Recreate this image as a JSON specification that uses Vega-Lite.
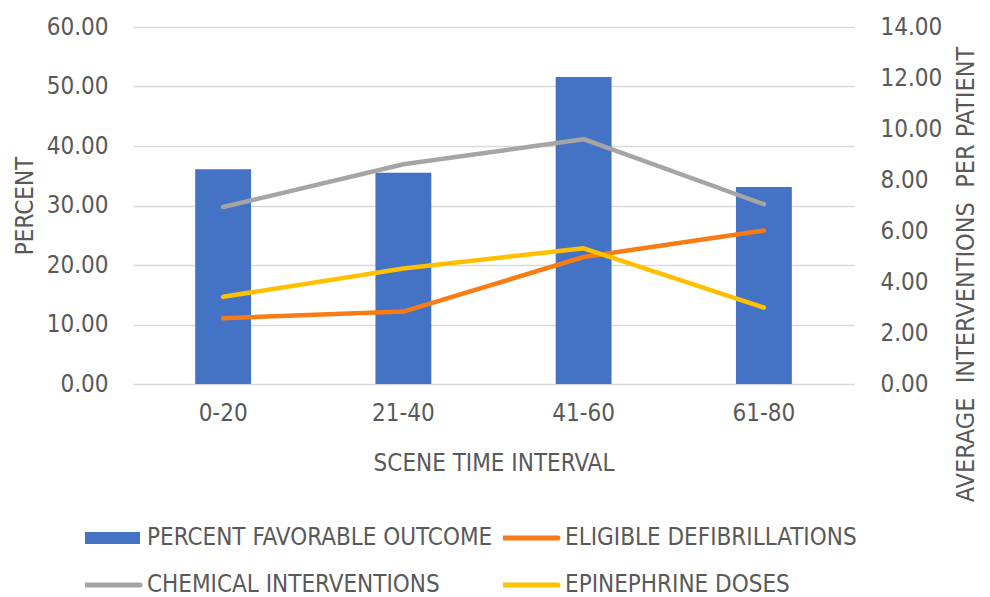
{
  "$schema": "https://vega.github.io/schema/vega-lite/v6.json",
  "width": 721,
  "height": 357,
  "autosize": {"type": "none"},
  "padding": {"left": 133, "top": 27, "right": 136, "bottom": 213},
  "background": "white",
  "config": {
    "font": "Liberation Sans Narrow, DejaVu Sans Condensed, sans-serif",
    "view": {"stroke": null},
    "axis": {
      "labelColor": "#595959",
      "titleColor": "#595959",
      "labelFontSize": 24,
      "titleFontSize": 24,
      "titleFontWeight": "normal",
      "domain": false,
      "ticks": false,
      "gridColor": "#D9D9D9",
      "gridWidth": 1.5
    },
    "legend": {
      "labelColor": "#595959",
      "labelFontSize": 24
    }
  },
  "data": {
    "values": [
      {"interval": "0-20", "series": "PERCENT FAVORABLE OUTCOME", "value": 36.1},
      {"interval": "21-40", "series": "PERCENT FAVORABLE OUTCOME", "value": 35.5},
      {"interval": "41-60", "series": "PERCENT FAVORABLE OUTCOME", "value": 51.6},
      {"interval": "61-80", "series": "PERCENT FAVORABLE OUTCOME", "value": 33.1},
      {"interval": "0-20", "series": "ELIGIBLE DEFIBRILLATIONS", "value": 2.58},
      {"interval": "21-40", "series": "ELIGIBLE DEFIBRILLATIONS", "value": 2.84},
      {"interval": "41-60", "series": "ELIGIBLE DEFIBRILLATIONS", "value": 4.98},
      {"interval": "61-80", "series": "ELIGIBLE DEFIBRILLATIONS", "value": 6.02},
      {"interval": "0-20", "series": "CHEMICAL INTERVENTIONS", "value": 6.94},
      {"interval": "21-40", "series": "CHEMICAL INTERVENTIONS", "value": 8.62},
      {"interval": "41-60", "series": "CHEMICAL INTERVENTIONS", "value": 9.6},
      {"interval": "61-80", "series": "CHEMICAL INTERVENTIONS", "value": 7.05},
      {"interval": "0-20", "series": "EPINEPHRINE DOSES", "value": 3.42},
      {"interval": "21-40", "series": "EPINEPHRINE DOSES", "value": 4.53},
      {"interval": "41-60", "series": "EPINEPHRINE DOSES", "value": 5.32},
      {"interval": "61-80", "series": "EPINEPHRINE DOSES", "value": 3.0}
    ]
  },
  "encoding": {
    "x": {
      "field": "interval",
      "type": "nominal",
      "sort": ["0-20", "21-40", "41-60", "61-80"],
      "scale": {"paddingInner": 0.69, "paddingOuter": 0.345},
      "axis": {
        "title": "SCENE TIME INTERVAL",
        "labelAngle": 0,
        "labelPadding": 17,
        "titlePadding": 26,
        "grid": false
      }
    },
    "color": {
      "field": "series",
      "type": "nominal",
      "scale": {
        "domain": ["PERCENT FAVORABLE OUTCOME", "ELIGIBLE DEFIBRILLATIONS", "CHEMICAL INTERVENTIONS", "EPINEPHRINE DOSES"],
        "range": ["#4472C4", "#F97B13", "#A5A5A5", "#FFC000"]
      },
      "legend": {
        "title": null,
        "orient": "none",
        "legendX": -48,
        "legendY": 496,
        "direction": "horizontal",
        "columns": 2,
        "columnPadding": 10,
        "rowPadding": 17,
        "clipHeight": 30,
        "symbolType": "stroke",
        "symbolSize": 3025,
        "labelOffset": 8,
        "labelLimit": 500,
        "encode": {
          "symbols": {
            "update": {
              "x": {"value": 27.5},
              "size": {"value": 3025},
              "stroke": {"scale": "color", "field": "value"},
              "strokeWidth": {"signal": "datum.value === 'PERCENT FAVORABLE OUTCOME' ? 12 : 5"},
              "strokeCap": {"signal": "datum.value === 'PERCENT FAVORABLE OUTCOME' ? 'butt' : 'round'"},
              "opacity": {"value": 1}
            }
          },
          "labels": {
            "update": {
              "x": {"value": 62}
            }
          }
        }
      }
    }
  },
  "layer": [
    {
      "transform": [{"filter": "datum.series === 'PERCENT FAVORABLE OUTCOME'"}],
      "mark": {"type": "bar"},
      "encoding": {
        "y": {
          "field": "value",
          "type": "quantitative",
          "scale": {"domain": [0, 60], "nice": false},
          "axis": {
            "title": "PERCENT",
            "values": [0, 10, 20, 30, 40, 50, 60],
            "format": ".2f",
            "labelPadding": 25,
            "titleAngle": 270,
            "titleX": -108,
            "titleY": 178.5,
            "titleAlign": "center",
            "titleBaseline": "middle"
          }
        }
      }
    },
    {
      "transform": [{"filter": "datum.series !== 'PERCENT FAVORABLE OUTCOME'"}],
      "mark": {"type": "line", "strokeWidth": 4.5, "strokeCap": "round", "strokeJoin": "round"},
      "encoding": {
        "y": {
          "field": "value",
          "type": "quantitative",
          "scale": {"domain": [0, 14], "nice": false},
          "axis": {
            "orient": "right",
            "title": "AVERAGE\u00a0\u00a0INTERVENTIONS\u00a0\u00a0PER PATIENT",
            "titleFontSize": 25,
            "values": [0, 2, 4, 6, 8, 10, 12, 14],
            "format": ".2f",
            "grid": false,
            "labelPadding": 26,
            "titleAngle": 270,
            "titleX": 111,
            "titleY": 247,
            "titleAlign": "center",
            "titleBaseline": "middle"
          }
        }
      }
    }
  ],
  "resolve": {"scale": {"y": "independent"}}
}
